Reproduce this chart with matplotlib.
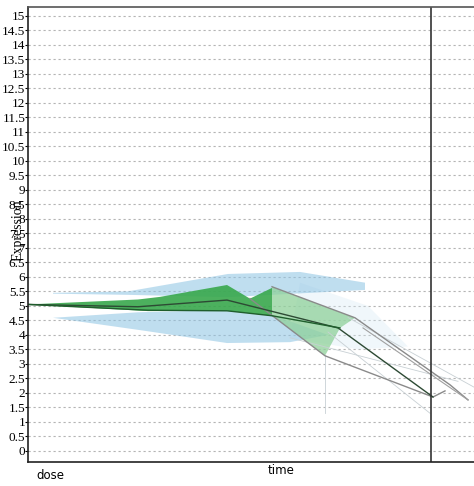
import matplotlib.pyplot as plt
import numpy as np

# y tick labels (0 .. 15 in steps of 0.5)
yticks = np.arange(0, 15.01, 0.5)
ytick_labels = ['%g' % v for v in yticks]

# time positions on the horizontal axis
green_dark_x = [0, 110, 132, 199, 222, 244, 244, 199, 120, 0]
green_dark_y = [5.05, 5.22, 5.31, 5.72, 5.25, 5.62, 4.66, 4.83, 4.82, 5.05]
green_light_x = [244, 327, 312, 297, 244]
green_light_y = [5.66, 4.59, 4.24, 3.28, 4.66]

blue_up_x = [25, 100, 200, 272, 337, 337, 200, 100, 25]
blue_up_y = [5.45, 5.5, 6.1, 6.17, 5.8, 5.55, 5.3, 5.38, 5.42]
blue_low_x = [25, 110, 199, 244, 300, 262, 199, 115, 25]
blue_low_y = [4.59, 4.78, 4.86, 4.69, 4.0, 3.75, 3.72, 4.15, 4.59]
blue_faint_x = [272, 340, 380, 330, 262]
blue_faint_y = [5.8, 5.0, 3.6, 3.5, 3.9]

median1_x = [0, 110, 199, 310, 405]
median1_y = [5.05, 4.97, 5.2, 4.24, 1.86]
median2_x = [0, 120, 199, 244, 312]
median2_y = [5.05, 4.85, 4.83, 4.66, 4.24]
gray1_x = [244, 327, 422, 440]
gray1_y = [5.66, 4.59, 2.28, 1.76]
gray2_x = [222, 297, 405, 417]
gray2_y = [5.25, 3.28, 1.86, 2.07]
gray3_x = [335, 440]
gray3_y = [4.24, 1.76]
faint_x = [[300, 402], [297, 297], [262, 430], [320, 446]]
faint_y = [[4.1, 1.3], [3.3, 1.3], [3.9, 2.4], [4.6, 2.2]]

fig = plt.figure(figsize=(4.74, 4.86), dpi=100)
ax = fig.add_axes([28 / 474, 24 / 486, 446 / 474, 455 / 486])
ax.set_xlim(0, 446)
ax.set_ylim(-0.38, 15.3)

for v in yticks:
    ax.axhline(v, color='#b4b4b4', lw=0.8, ls=(0, (2, 2.5)), zorder=0)

ax.fill(blue_faint_x, blue_faint_y, color='#d6eaf4', alpha=0.35, lw=0)
ax.fill(blue_up_x, blue_up_y, color='#8cc3e3', alpha=0.55, lw=0)
ax.fill(blue_low_x, blue_low_y, color='#8cc3e3', alpha=0.55, lw=0)
ax.fill(green_dark_x, green_dark_y, color='#38a84c', alpha=0.9, lw=0)
ax.fill(green_light_x, green_light_y, color='#8fd19a', alpha=0.75, lw=0)

for fx, fy in zip(faint_x, faint_y):
    ax.plot(fx, fy, color='#c8d0d4', lw=0.6)
ax.plot(gray1_x, gray1_y, color='#8a8a8a', lw=1.0)
ax.plot(gray2_x, gray2_y, color='#8a8a8a', lw=1.0)
ax.plot(gray3_x, gray3_y, color='#a0a0a0', lw=0.8)
ax.plot(median1_x, median1_y, color='#2d4a34', lw=1.0)
ax.plot(median2_x, median2_y, color='#1f5e2c', lw=1.0)

ax.axvline(403, color='#333333', lw=1.2)
ax.spines['right'].set_visible(False)
for s in ['left', 'bottom', 'top']:
    ax.spines[s].set_color('#222222')
    ax.spines[s].set_linewidth(1.2)
ax.spines['top'].set_color('#555555')

ax.set_xticks([])
ax.set_yticks(yticks)
ax.set_yticklabels(ytick_labels, family='Liberation Serif', fontsize=9.5)
ax.tick_params(axis='y', length=2, pad=0)

# the axis title sits over the tick labels, as in the source image
fig.text(18 / 474, 1 - 230 / 486, 'Expression', rotation=90, ha='center',
         va='center', family='Liberation Serif', fontsize=10)
fig.text(50 / 474, 1 - 475 / 486, 'dose', ha='center', va='center', fontsize=8.5)
fig.text(281 / 474, 1 - 470 / 486, 'time', ha='center', va='center', fontsize=8.5)

fig.savefig('out.png', dpi=100)
